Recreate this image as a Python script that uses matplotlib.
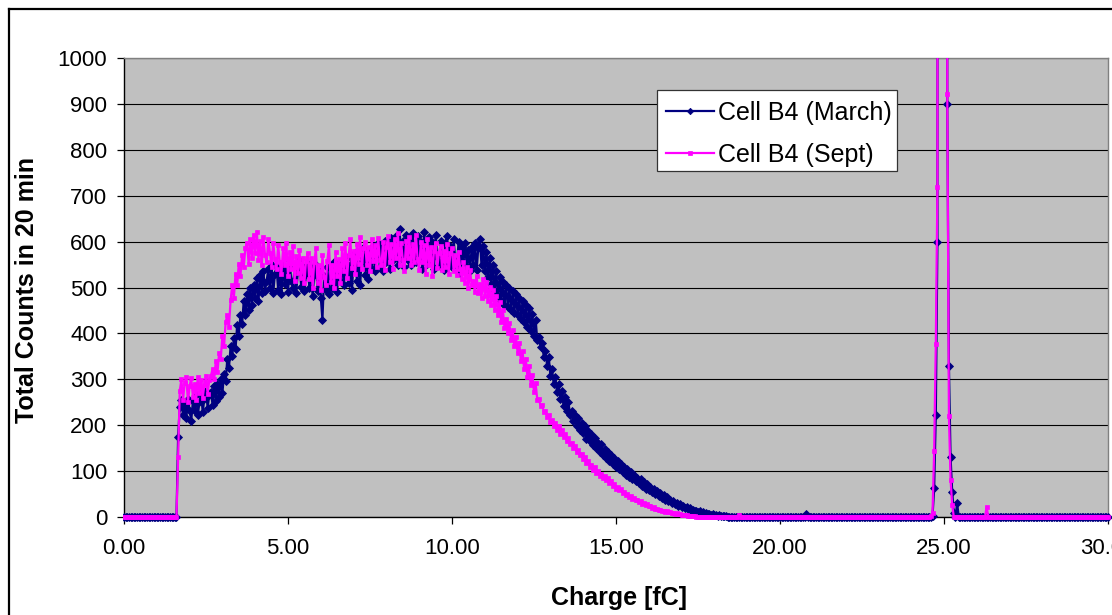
import numpy as np
import matplotlib
matplotlib.use("Agg")
import matplotlib.pyplot as plt
from matplotlib.lines import Line2D
from matplotlib.patches import Rectangle

plt.rcParams["font.family"] = ["Liberation Sans", "DejaVu Sans"]

# Charge axis sampling (fC)
step = 0.05
charge = np.round(np.arange(0, 30 + step / 2, step), 2)

# Cell B4, March run: main charge spectrum starting at 1.65 fC
march_main_start = 1.65
march_main = [
    175, 240, 255, 222, 248, 215, 258, 232, 210, 252, 230, 265, 222, 250, 270, 228, 258, 275, 238, 266,
    272, 245, 285, 252, 290, 262, 300, 270, 312, 296, 345, 325, 372, 350, 390, 365, 418, 395, 440, 420,
    470, 440, 485, 452, 498, 462, 505, 478, 520, 470, 528, 488, 535, 492, 515, 540, 498, 548, 488, 530,
    545, 495, 532, 485, 550, 508, 540, 490, 558, 515, 500, 545, 488, 535, 560, 502, 542, 492, 530, 552,
    500, 540, 482, 528, 550, 492, 535, 478, 430, 525, 495, 545, 485, 542, 500, 555, 512, 490, 548, 515,
    555, 505, 540, 565, 510, 550, 495, 560, 575, 515, 552, 505, 568, 585, 528, 565, 518, 578, 540, 590,
    535, 572, 598, 545, 585, 535, 602, 555, 592, 540, 608, 560, 596, 612, 550, 628, 565, 602, 545, 615,
    560, 608, 548, 618, 575, 555, 612, 565, 600, 540, 620, 570, 552, 610, 562, 600, 540, 615, 568, 550,
    602, 558, 538, 598, 612, 552, 590, 545, 605, 560, 548, 600, 532, 588, 555, 596, 545, 582, 535, 588,
    550, 598, 538, 585, 605, 548, 590, 535, 578, 522, 565, 508, 550, 492, 535, 482, 522, 470, 512, 462,
    505, 458, 498, 452, 492, 445, 485, 440, 478, 432, 470, 425, 462, 415, 455, 405, 442, 395, 430, 385,
    392, 370, 378, 348, 362, 330, 348, 308, 322, 290, 305, 272, 290, 258, 275, 242, 262, 230, 250, 222,
    230, 210, 222, 198, 215, 190, 205, 182, 198, 170, 188, 165, 180, 156, 172, 150, 162, 142, 158, 136,
    148, 128, 142, 122, 136, 115, 128, 110, 122, 104, 116, 98, 110, 92, 104, 88, 98, 82, 92, 78,
    86, 74, 82, 68, 77, 62, 72, 58, 66, 54, 62, 50, 56, 45, 52, 42, 48, 38, 44, 34,
    38, 31, 35, 28, 31, 25, 28, 22, 25, 19, 22, 17, 19, 14, 16, 12, 14, 10, 12, 9,
    10, 7, 9, 6, 7, 5, 6, 4, 5, 3, 4, 3, 3, 2, 2, 1, 1, 1,
]
# March calibration peak around 25 fC (values above 1000 run off the scale)
march_peak_start = 24.65
march_peak = [2, 63, 222, 600, 15000, 30000, 30000, 28000, 14000, 900, 330, 130, 55, 8, 0, 30, 0]
march_blips = {20.80: 6}

# Cell B4, September run
sept_main_start = 1.65
sept_main = [
    130, 275, 300, 255, 292, 305, 250, 285, 302, 262, 290, 255, 305, 270, 298, 260, 288, 308, 268, 298,
    308, 322, 300, 340, 315, 358, 345, 395, 372, 425, 440, 415, 472, 505, 478, 530, 505, 552, 525, 570,
    545, 585, 598, 552, 605, 565, 615, 575, 622, 560, 602, 548, 610, 570, 555, 605, 575, 545, 598, 562,
    540, 592, 555, 530, 585, 548, 598, 525, 578, 540, 590, 515, 568, 532, 582, 520, 565, 510, 558, 575,
    518, 565, 500, 555, 585, 510, 548, 495, 570, 522, 505, 558, 592, 512, 550, 498, 578, 525, 562, 510,
    585, 535, 598, 520, 570, 605, 542, 580, 530, 595, 552, 610, 540, 585, 600, 550, 588, 535, 605, 558,
    592, 545, 608, 560, 550, 600, 538, 588, 612, 555, 595, 540, 605, 565, 618, 550, 598, 560, 535, 602,
    565, 610, 548, 595, 555, 615, 562, 538, 600, 555, 592, 530, 605, 550, 588, 525, 580, 598, 542, 575,
    590, 538, 580, 545, 595, 530, 575, 585, 535, 570, 528, 578, 540, 518, 555, 510, 545, 500, 538, 505,
    515, 490, 525, 488, 508, 478, 518, 482, 512, 470, 502, 462, 495, 452, 482, 440, 468, 425, 452, 412,
    432, 400, 422, 385, 408, 372, 392, 358, 380, 340, 362, 322, 345, 305, 328, 288, 310, 272, 292, 255,
    258, 242, 245, 228, 232, 218, 222, 208, 212, 198, 205, 190, 198, 180, 190, 175, 180, 165, 172, 158,
    162, 150, 155, 142, 146, 134, 138, 126, 130, 118, 122, 110, 114, 102, 108, 96, 100, 90, 94, 84,
    90, 80, 84, 74, 78, 68, 72, 62, 66, 58, 60, 53, 55, 48, 50, 44, 46, 40, 42, 36,
    37, 32, 34, 29, 31, 26, 28, 23, 25, 20, 21, 17, 18, 15, 16, 13, 14, 11, 12, 10,
    10, 8, 9, 7, 8, 6, 6, 5, 5, 4, 4, 3, 3, 2, 2, 2, 1, 1,
]
sept_peak_start = 24.60
sept_peak = [2, 8, 144, 377, 720, 18000, 32000, 32000, 30000, 16000, 921, 220, 81, 26, 0]
sept_blips = {18.75: 5, 26.30: 22}

series_labels = ["Cell B4 (March)", "Cell B4 (Sept)"]
y_ticks = list(range(0, 1001, 100))
x_ticks = [0, 5, 10, 15, 20, 25, 30]


def build_counts(segments, blips):
    counts = np.zeros(len(charge))
    for start, values in segments:
        i0 = int(round(start / step))
        counts[i0:i0 + len(values)] = values
    for q, v in blips.items():
        counts[int(round(q / step))] = v
    return counts


march = build_counts([(march_main_start, march_main), (march_peak_start, march_peak)], march_blips)
sept = build_counts([(sept_main_start, sept_main), (sept_peak_start, sept_peak)], sept_blips)

W, H = 1112, 615
fig = plt.figure(figsize=(W / 100, H / 100), dpi=100)
fig.patch.set_facecolor("white")

# plot area in pixel units
left, right, top, bottom = 124, 1108, 58, 517
ax = fig.add_axes([left / W, 1 - bottom / H, (right - left) / W, (bottom - top) / H])
ax.set_facecolor("#C0C0C0")
ax.set_xlim(0, 30)
ax.set_ylim(0, 1000)

ax.set_yticks(y_ticks)
ax.set_yticklabels([str(v) for v in y_ticks])
ax.set_xticks(x_ticks)
ax.set_xticklabels([f"{v:.2f}" for v in x_ticks])
ax.yaxis.grid(True, color="black", linewidth=0.8)
ax.set_axisbelow(True)

for s in ("top", "right"):
    ax.spines[s].set_color("#808080")
    ax.spines[s].set_linewidth(1.0)
for s in ("left", "bottom"):
    ax.spines[s].set_color("black")
    ax.spines[s].set_linewidth(1.0)

ax.tick_params(axis="both", direction="out", length=5, width=0.9, colors="black",
               labelsize=16)
ax.tick_params(axis="y", pad=7)
ax.tick_params(axis="x", pad=10)

clip = Rectangle((-0.001, -0.012), 1.01, 1.012, transform=ax.transAxes,
                 facecolor="none", edgecolor="none")
ax.add_patch(clip)

l1, = ax.plot(charge, march, color="#000080", linewidth=1.6, marker="D",
              markersize=4.0, markeredgewidth=0.6, label=series_labels[0], zorder=3)
l2, = ax.plot(charge, sept, color="#FF00FF", linewidth=1.6, marker="s",
              markersize=3.0, markeredgewidth=0.5, label=series_labels[1], zorder=4)
for ln in (l1, l2):
    ln.set_clip_path(clip)

# axis titles placed in pixel positions
fig.text(619 / W, 1 - 598 / H, "Charge [fC]", fontsize=18, fontweight="bold",
         ha="center", va="center")
fig.text(27 / W, 1 - 290 / H, "Total Counts in 20 min", fontsize=18, fontweight="bold",
         ha="center", va="center", rotation=90)

# legend box drawn as a plain rectangle, entries placed inside it
fig.add_artist(Rectangle((657 / W, 1 - 171 / H), 240 / W, 81 / H, transform=fig.transFigure,
                         facecolor="white", edgecolor="#333333", linewidth=0.9, zorder=5))
leg = fig.legend(handles=[l1, l2], labels=series_labels, loc="upper left",
                 bbox_to_anchor=(666 / W, 1 - 101 / H), bbox_transform=fig.transFigure,
                 borderaxespad=0, borderpad=0, fontsize=18, frameon=False,
                 handlelength=1.9, handletextpad=0.2, labelspacing=0.72, markerscale=0.8)
leg.set_zorder(6)

# outer chart frame
fig.add_artist(Line2D([9 / W, 9 / W], [1 - 9 / H, 0], transform=fig.transFigure,
                      color="black", linewidth=1.6))
fig.add_artist(Line2D([9 / W, 1], [1 - 9 / H, 1 - 9 / H], transform=fig.transFigure,
                      color="black", linewidth=1.6))

fig.savefig("out.png", dpi=100)
